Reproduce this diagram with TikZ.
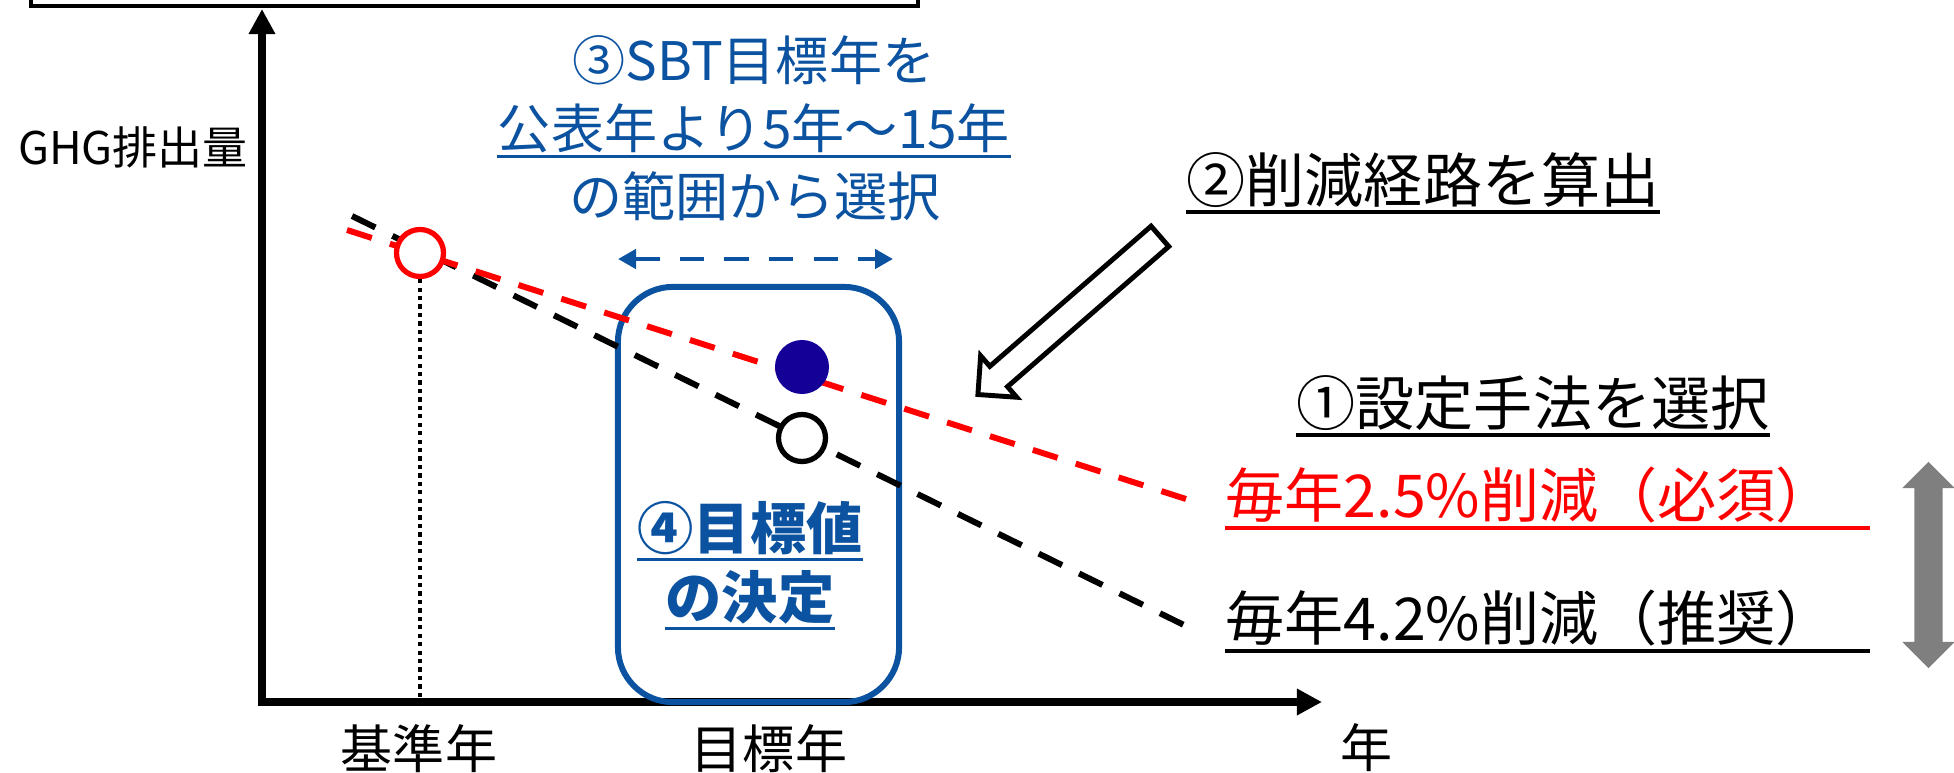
\documentclass[tikz,border=0pt]{standalone}
\usepackage{fontspec}
\setmainfont{Noto Sans CJK JP}
\usetikzlibrary{arrows.meta, shapes.arrows}
\definecolor{sbtblue}{HTML}{0B52A0}
\definecolor{dotblue}{HTML}{140096}
\definecolor{arrgray}{HTML}{7F7F7F}

\begin{document}
\begin{tikzpicture}[x=0.01cm, y=-0.01cm,
  ax/.style={line width=2pt, {Triangle[length=0.25cm, width=0.25cm]}-{Triangle[length=0.25cm, width=0.25cm]}},
  lab/.style={inner sep=0, font=\fontsize{14.8}{18}\selectfont},
  big/.style={inner sep=0, font=\fontsize{16.8}{20}\selectfont},
  sb/.style={inner sep=0, text=sbtblue, font=\fontsize{15.1}{19}\selectfont},
  tv/.style={inner sep=0, text=sbtblue, font=\fontsize{16}{20}\selectfont\bfseries},
  rt/.style={line width=1.7pt, dash pattern=on 7.4pt off 5.4pt},
  ring/.style={circle, draw, line width=1.5pt, fill=white, minimum size=0.47cm, inner sep=0},
  ul/.style={line width=1pt}]
  \useasboundingbox (0,0) rectangle (1954,772);

  % frame cut off at the top
  \draw[line width=1pt] (31,0) |- (918,6) -- (918,0);

  % axes
  \coordinate (O) at (262,702);
  \coordinate (ytop) at (262,9);
  \coordinate (xend) at (1322,702);
  \coordinate (bx) at (420,702);
  \draw[ax] (ytop) -- (O) -- (xend);
  \node[lab, font=\fontsize{12.8}{15}\selectfont] (ghg) at (133,147) {GHG排出量};
  \node[lab] (base) at (419,749) {基準年};
  \node[lab] (goal) at (769,749) {目標年};
  \node[lab] (yr) at (1367,748) {年};

  % target year window
  \node[draw=sbtblue, line width=1.7pt, rounded corners=0.55cm, minimum width=2.81cm, minimum height=4.15cm] (win) at (758.5,494.5) {};
  \coordinate (w0) at (618,259);
  \coordinate (w1) at (893,259);
  \draw[sbtblue, line width=1.4pt, dash pattern=on 7pt off 5.7pt, {Triangle[length=0.18cm, width=0.19cm]}-{Triangle[length=0.18cm, width=0.19cm]}] (w0) -- (w1);

  % reduction paths
  \coordinate (q0) at (352,216);
  \coordinate (q1) at (1188,627);
  \coordinate (p0) at (347,230);
  \coordinate (p1) at (1186,499);
  \draw[rt] (q0) -- (q1);
  \draw[rt, red] (p0) -- (p1);
  \node[ring, draw=red] (bpt) at (420,253) {};
  \node[ring] (g42) at (802,438) {};
  \node[circle, fill=dotblue, minimum size=0.54cm, inner sep=0] (g25) at (802,367) {};
  \draw[line width=1pt, dash pattern=on 1.2pt off 1.2pt] (bpt.south) -- (bx);

  % step 3
  \node[sb] (s1) at (754,60) {③SBT目標年を};
  \node[sb] (s2) at (754,128) {公表年より5年～15年};
  \node[sb] (s3) at (755,196) {の範囲から選択};
  \draw[ul, sbtblue] ([yshift=-0.03cm]s2.south west) -- ([yshift=-0.03cm]s2.south east);

  % step 4
  \node[tv] (t1) at (750,528) {④目標値};
  \node[tv] (t2) at (750,597) {の決定};
  \draw[ul, sbtblue] ([yshift=-0.04cm]t1.south west) -- ([yshift=-0.04cm]t1.south east);
  \draw[ul, sbtblue] ([yshift=-0.04cm]t2.south west) -- ([yshift=-0.04cm]t2.south east);

  % steps 1 and 2
  \node[big] (calc) at (1423,180) {②削減経路を算出};
  \draw[ul] ([yshift=-0.04cm]calc.south west) -- ([yshift=-0.04cm]calc.south east);
  \node[single arrow, draw, fill=white, line width=1.4pt, minimum height=2.41cm, minimum width=0.5cm, single arrow head extend=0.14cm, inner xsep=0, inner ysep=0.11cm, rotate=221] (hint) at (1074,311) {};
  \node[big] (pick) at (1533,403) {①設定手法を選択};
  \draw[ul] ([yshift=-0.04cm]pick.south west) -- ([yshift=-0.04cm]pick.south east);
  \node[big, text=red, text width=6.43cm, anchor=west] (m25) at (1225,495) {毎年2.5\%削減（必須）};
  \draw[ul, red] ([yshift=-0.04cm]m25.south west) -- ([yshift=-0.04cm]m25.south east);
  \node[big, text width=6.43cm, anchor=west] (m42) at (1225,618) {毎年4.2\%削減（推奨）};
  \draw[ul] ([yshift=-0.04cm]m42.south west) -- ([yshift=-0.04cm]m42.south east);
  \node[double arrow, fill=arrgray, minimum height=2.06cm, minimum width=0.51cm, double arrow head extend=0.12cm, inner xsep=0, inner ysep=0.135cm, rotate=90] (span) at (1928.5,565) {};
\end{tikzpicture}
\end{document}
